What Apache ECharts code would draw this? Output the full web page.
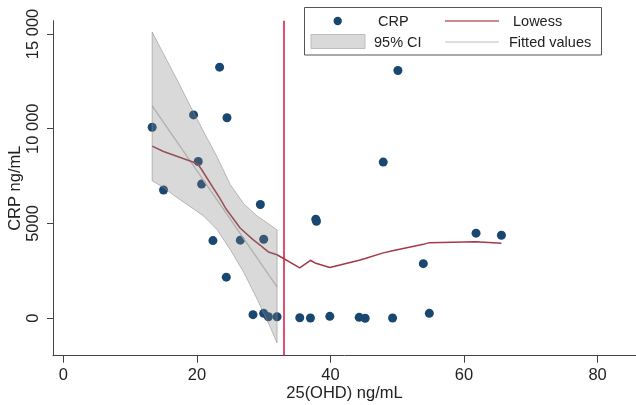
<!DOCTYPE html>
<html>
<head>
<meta charset="utf-8">
<script src="https://cdn.jsdelivr.net/npm/echarts@6/dist/echarts.min.js"></script>
<style>
  html, body { margin: 0; padding: 0; background: #fff; }
  #chart { width: 636px; height: 405px; }
</style>
</head>
<body>
<div id="chart"></div>
<script>
// CRP against 25(OHD): individual observations
const crpX = [13.3, 15.0, 19.5, 20.2, 20.7, 22.4, 23.4, 24.5, 24.4, 26.5, 28.4, 29.5, 30.0, 30.0, 30.7, 32.0,
              35.4, 37.0, 37.8, 37.9, 39.9, 44.3, 45.2, 47.9, 49.3, 50.1, 53.9, 54.8, 61.8, 65.6];
const crpY = [10080, 6770, 10730, 8270, 7080, 4100, 13250, 10580, 2170, 4120, 190, 6000, 4170, 260, 80, 80,
              30, 15, 5230, 5120, 100, 50, 0, 8240, 15, 13070, 2880, 260, 4490, 4380];

// Lowess smoother evaluated at the observed 25(OHD) values
const lowessX = [13.3, 15.0, 19.5, 20.2, 20.7, 22.4, 23.4, 24.4, 26.5, 28.4, 29.5, 30.0, 30.7, 32.0,
                 35.4, 37.0, 37.8, 39.9, 44.3, 45.2, 47.9, 49.3, 53.9, 54.8, 61.8, 65.6];
const lowessY = [9080, 8800, 8230, 8100, 7850, 6900, 6350, 5750, 4750, 4150, 3850, 3700, 3500, 3350,
                 2660, 3060, 2900, 2680, 3060, 3150, 3450, 3560, 3900, 3990, 4040, 3960];

// Linear fit below the cut-off, with its 95% confidence band
const fitX = [13.3, 32.0];
const fitY = [11200, 1660];
const ciX  = [13.3, 15, 17, 19, 21, 23, 25, 27, 29, 31, 32];
const ciHi = [15100, 13950, 12600, 11200, 9850, 8530, 7050, 6050, 5400, 4920, 4660];
const ciLo = [7250, 6900, 6370, 5890, 5400, 4680, 3620, 2430, 1020, -480, -1300];

// Cut-off for 25(OHD)
const refLineX = 33;

// Axis ticks
const xTicks = [0, 20, 40, 60, 80];
const yTicks = [0, 5000, 10000, 15000];
const yTickLabels = ['0', '5000', '10 000', '15 000'];

const FONT = '"Liberation Sans", Arial, Helvetica, sans-serif';
const INK = '#222';
const NAVY = '#1a476f';
const LOWESS = '#a23a48';
const AXIS = '#444';

const chart = echarts.init(document.getElementById('chart'), null, { renderer: 'canvas' });

const option = {
  backgroundColor: '#fff',
  animation: false,
  textStyle: { fontFamily: FONT, color: INK },
  grid: { left: 53, right: 0, top: 20.7, bottom: 49.3, containLabel: false, outerBoundsMode: 'none' },
  xAxis: {
    type: 'value',
    min: -1.55,
    max: 85.75,
    name: '25(OHD) ng/mL',
    nameLocation: 'middle',
    nameGap: 29,
    nameMoveOverlap: false,
    nameTextStyle: { fontFamily: FONT, fontSize: 16.5, color: INK },
    axisLine: { show: true, onZero: false, lineStyle: { color: AXIS, width: 1 } },
    axisTick: { show: true, length: 7, lineStyle: { color: AXIS }, customValues: xTicks },
    axisLabel: { fontFamily: FONT, fontSize: 16.5, color: INK, margin: 11, customValues: xTicks },
    splitLine: { show: false }
  },
  yAxis: {
    type: 'value',
    min: -1975,
    max: 15700,
    name: 'CRP ng/mL',
    nameLocation: 'middle',
    nameGap: 29,
    nameRotate: 90,
    nameMoveOverlap: false,
    nameTextStyle: { fontFamily: FONT, fontSize: 16.5, color: INK },
    axisLine: { show: true, onZero: false, lineStyle: { color: AXIS, width: 1 } },
    axisTick: { show: true, length: 6, lineStyle: { color: AXIS }, customValues: yTicks },
    axisLabel: {
      fontFamily: FONT, fontSize: 16.5, color: INK, rotate: 90, margin: 11,
      customValues: yTicks,
      formatter: function (v) {
        const i = yTicks.indexOf(v);
        return i >= 0 ? yTickLabels[i] : '';
      }
    },
    splitLine: { show: false }
  },
  series: [
    {
      name: 'CRP',
      type: 'scatter',
      data: crpX.map((x, i) => [x, crpY[i]]),
      symbol: 'circle',
      symbolSize: 9,
      itemStyle: { color: NAVY, opacity: 1 },
      z: 2,
      markLine: {
        silent: true,
        symbol: ['none', 'none'],
        label: { show: false },
        lineStyle: { color: '#d4163f', width: 1.5, type: 'solid' },
        data: [{ xAxis: refLineX }]
      }
    },
    {
      name: 'Fitted values',
      type: 'line',
      data: fitX.map((x, i) => [x, fitY[i]]),
      showSymbol: false,
      lineStyle: { color: '#c4c4c4', width: 1.3 },
      z: 3
    },
    {
      name: 'Lowess',
      type: 'line',
      data: lowessX.map((x, i) => [x, lowessY[i]]),
      showSymbol: false,
      lineStyle: { color: LOWESS, width: 1.5 },
      z: 4
    },
    {
      name: '95% CI',
      type: 'custom',
      data: ciX.map((x, i) => [x, ciLo[i], ciHi[i]]),
      encode: { x: 0, y: [1, 2] },
      z: 5,
      renderItem: function (params, api) {
        if (params.dataIndex !== 0) return null;
        const pts = [];
        for (let i = 0; i < ciX.length; i++) pts.push(api.coord([ciX[i], ciHi[i]]));
        for (let i = ciX.length - 1; i >= 0; i--) pts.push(api.coord([ciX[i], ciLo[i]]));
        return {
          type: 'polygon',
          shape: { points: pts },
          style: { fill: 'rgba(128,128,128,0.30)', stroke: 'rgba(140,140,140,0.55)', lineWidth: 1 }
        };
      }
    }
  ],
  graphic: [
    // legend frame
    { type: 'rect', shape: { x: 304.5, y: 7.5, width: 297, height: 47.5 },
      style: { fill: '#fff', stroke: '#555', lineWidth: 1 }, z: 50 },
    { type: 'circle', shape: { cx: 337.7, cy: 21, r: 4.2 }, style: { fill: NAVY }, z: 51 },
    { type: 'text', x: 378, y: 22, style: { text: 'CRP', font: '14.5px ' + FONT, fill: INK, verticalAlign: 'middle' }, z: 51 },
    { type: 'line', shape: { x1: 445, y1: 21, x2: 499, y2: 21 }, style: { stroke: '#c0616b', lineWidth: 1.5 }, z: 51 },
    { type: 'text', x: 513, y: 22, style: { text: 'Lowess', font: '14.5px ' + FONT, fill: INK, verticalAlign: 'middle' }, z: 51 },
    { type: 'rect', shape: { x: 311, y: 34.5, width: 54, height: 14 },
      style: { fill: '#d9d9d9', stroke: '#bdbdbd', lineWidth: 1 }, z: 51 },
    { type: 'text', x: 374, y: 42.5, style: { text: '95% CI', font: '14.5px ' + FONT, fill: INK, verticalAlign: 'middle' }, z: 51 },
    { type: 'line', shape: { x1: 445, y1: 42, x2: 499, y2: 42 }, style: { stroke: '#d4d4d4', lineWidth: 1.5 }, z: 51 },
    { type: 'text', x: 509, y: 42.5, style: { text: 'Fitted values', font: '14.5px ' + FONT, fill: INK, verticalAlign: 'middle' }, z: 51 }
  ]
};

chart.setOption(option);
</script>
</body>
</html>
